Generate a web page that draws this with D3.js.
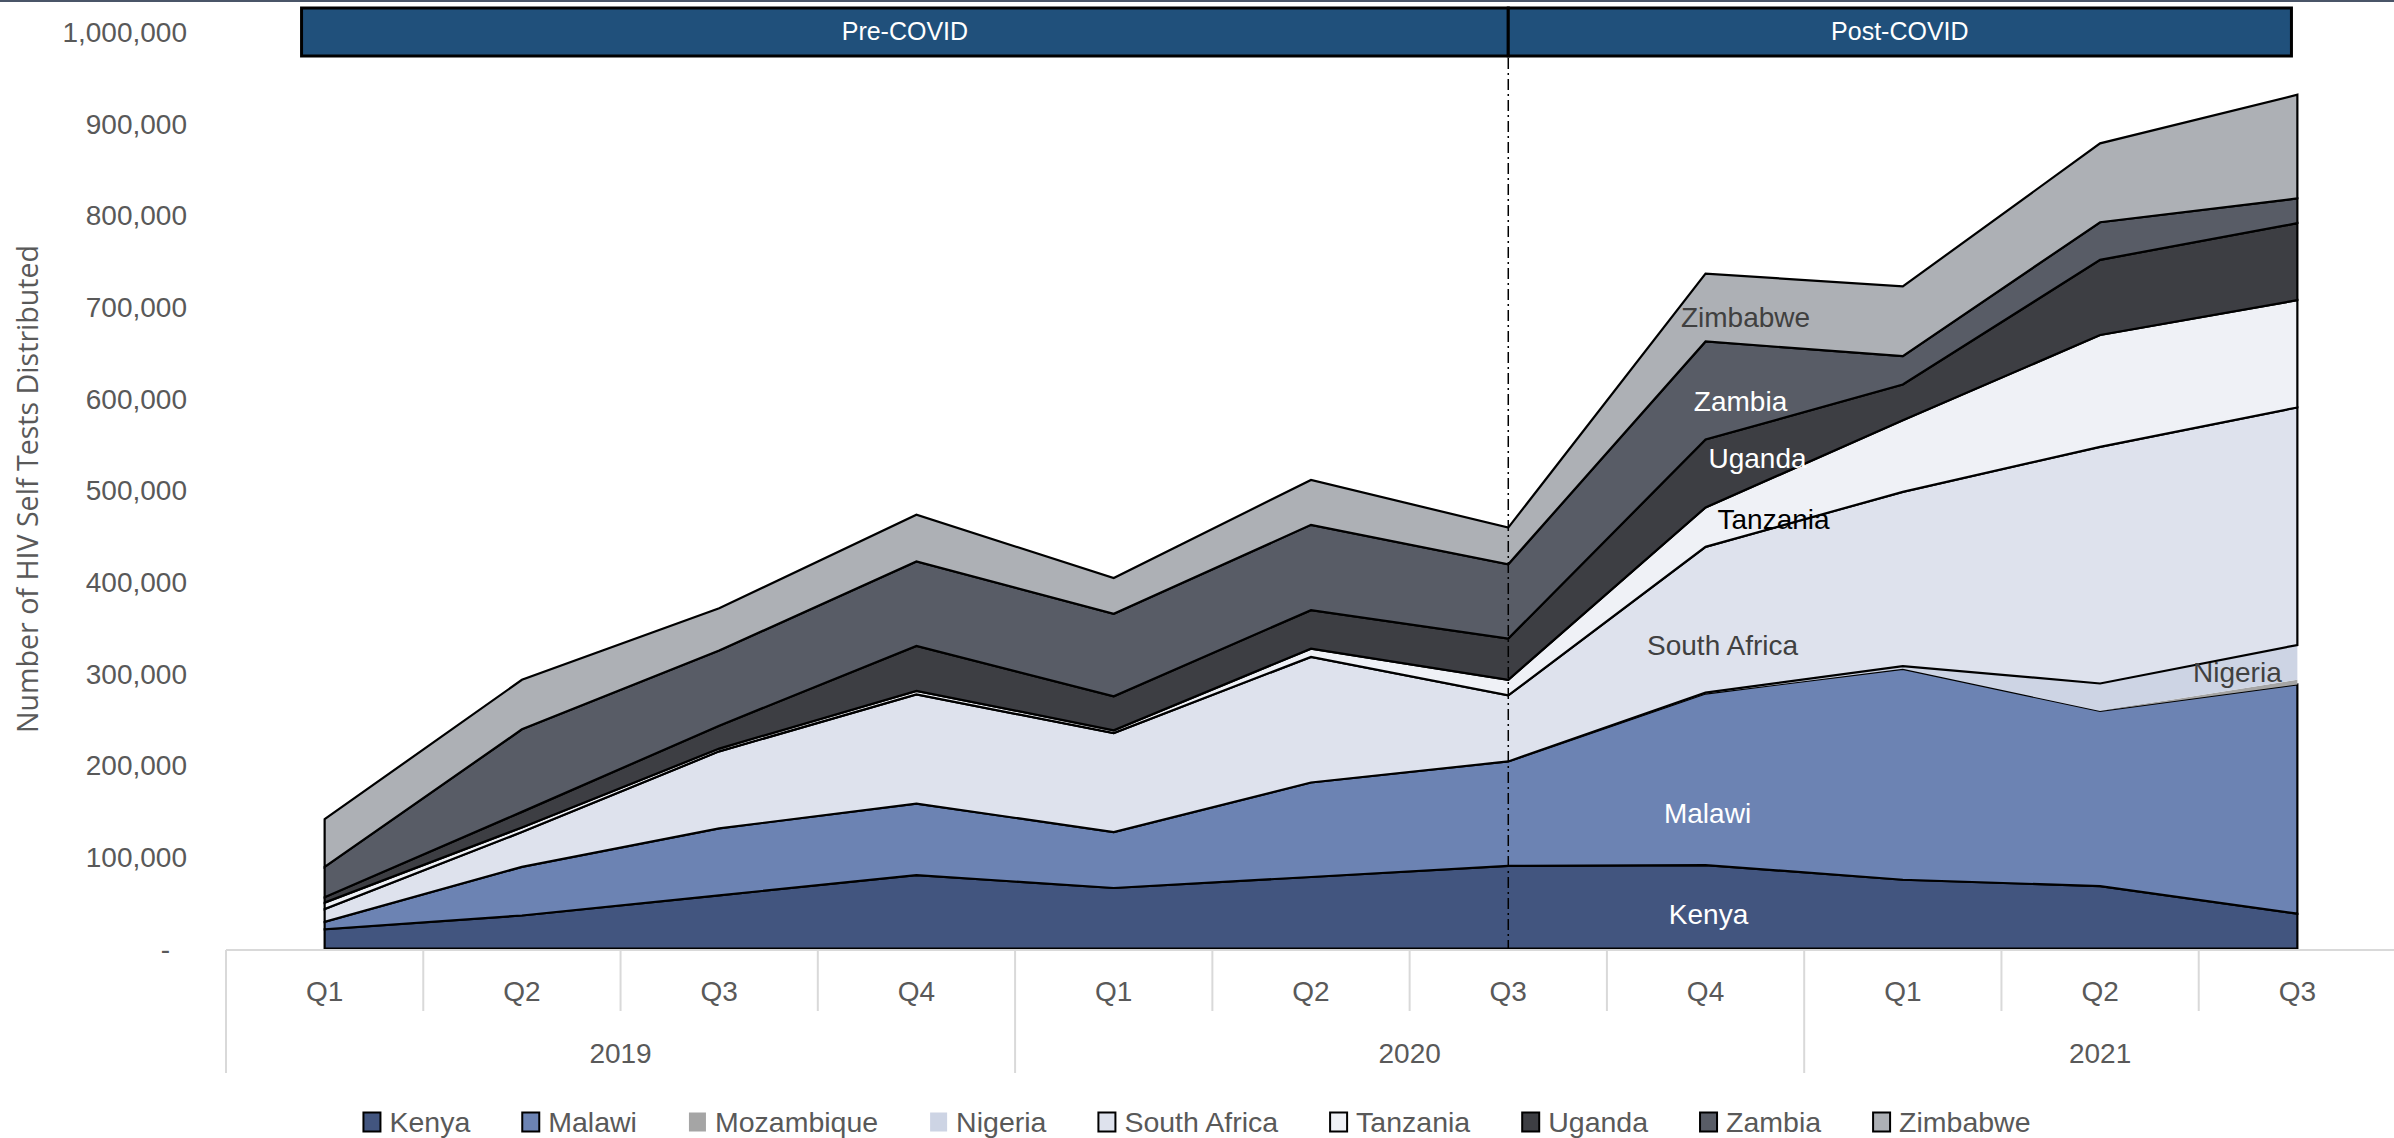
<!DOCTYPE html>
<html>
<head>
<meta charset="utf-8">
<script src="https://cdn.jsdelivr.net/npm/d3@7"></script>
<style>
  html, body { margin: 0; padding: 0; background: #ffffff; }
  svg { display: block; }
</style>
</head>
<body>
<svg id="chart" width="2394" height="1138"></svg>
<script>
// Quarterly HIV self-test distribution, stacked by country
const quarters = ["Q1", "Q2", "Q3", "Q4", "Q1", "Q2", "Q3", "Q4", "Q1", "Q2", "Q3"];
const years = ["2019", "2019", "2019", "2019", "2020", "2020", "2020", "2020", "2021", "2021", "2021"];

const countries = ["Kenya", "Malawi", "Mozambique", "Nigeria", "South Africa", "Tanzania", "Uganda", "Zambia", "Zimbabwe"];

const kenya       = [21000, 36000, 58000, 80000, 66000, 78000, 90000, 91000, 75000, 68000, 38000];
const malawi      = [8000, 53000, 73000, 78000, 61000, 103000, 114000, 187000, 230000, 191000, 250000];
const mozambique  = [0, 0, 0, 0, 0, 0, 0, 0, 0, 0, 5000];
const nigeria     = [0, 0, 0, 0, 0, 0, 0, 1000, 3000, 30000, 38000];
const southAfrica = [14000, 38000, 84000, 119000, 108000, 137000, 72000, 159000, 190000, 258000, 259000];
const tanzania    = [7000, 5000, 3000, 4000, 3000, 9000, 17000, 43000, 78000, 122000, 117000];
const uganda      = [6000, 17000, 25000, 49000, 37000, 42000, 45000, 74000, 39000, 82000, 84000];
const zambia      = [33000, 90000, 82000, 92000, 90000, 93000, 81000, 107000, 31000, 41000, 27000];
const zimbabwe    = [52000, 54000, 46000, 51000, 39000, 49000, 40000, 74000, 76000, 86000, 113000];

const seriesValues = [kenya, malawi, mozambique, nigeria, southAfrica, tanzania, uganda, zambia, zimbabwe];

const yTicks = [0, 100000, 200000, 300000, 400000, 500000, 600000, 700000, 800000, 900000, 1000000];

const periodLabels = ["Pre-COVID", "Post-COVID"];

// Styling
const fills = ["#42557f", "#6c83b3", "#a5a5a5", "#cdd4e4", "#dee2ed", "#eff1f6", "#3d3e43", "#585c66", "#adb0b5"];
const outlined = [true, true, false, false, true, true, true, true, true];
const labelColors = ["#ffffff", "#ffffff", "#404040", "#404040", "#404040", "#000000", "#ffffff", "#ffffff", "#404040"];
const FONT = "'Liberation Sans', Arial, sans-serif";
const TEXT_GREY = "#595959";

// Build table rows from the arrays
const rows = quarters.map((q, i) => {
  const r = { idx: i };
  countries.forEach((c, k) => { r[c] = seriesValues[k][i]; });
  return r;
});

const svg = d3.select("#chart");
const W = 2394;

const plotLeft = 226, plotRight = 2396;
const x = d3.scalePoint().domain(d3.range(quarters.length)).range([plotLeft, plotRight]).padding(0.5);
const xb = d3.scaleBand().domain(d3.range(quarters.length)).range([plotLeft, plotRight]);
const y = d3.scaleLinear().domain([0, 1000000]).range([948.5, 31.5]);

// Thin rule along the top edge
svg.append("rect").attr("x", 0).attr("y", 0).attr("width", W).attr("height", 2).attr("fill", "#4a5568");

// Stacked areas
const stack = d3.stack().keys(countries);
const layers = stack(rows);
const area = d3.area()
  .x(d => x(d.data.idx))
  .y0(d => y(d[0]))
  .y1(d => y(d[1]))
  .curve(d3.curveLinear);

svg.append("g").selectAll("path")
  .data(layers)
  .join("path")
  .attr("d", area)
  .attr("fill", (d, i) => fills[i])
  .attr("stroke", (d, i) => outlined[i] ? "#000000" : "none")
  .attr("stroke-width", 2.2)
  .attr("stroke-linejoin", "miter");

// Category axis line and separators
const axisY = y(0) + 1.5;
svg.append("line")
  .attr("x1", plotLeft).attr("x2", W)
  .attr("y1", axisY).attr("y2", axisY)
  .attr("stroke", "#d9d9d9").attr("stroke-width", 2);

const sepGroup = svg.append("g");
d3.range(quarters.length).forEach(i => {
  const isYearStart = i === 0 || years[i] !== years[i - 1];
  sepGroup.append("line")
    .attr("x1", xb(i)).attr("x2", xb(i))
    .attr("y1", axisY).attr("y2", isYearStart ? 1073 : 1011)
    .attr("stroke", "#d9d9d9").attr("stroke-width", 2);
});

// Quarter labels
svg.append("g").selectAll("text")
  .data(quarters)
  .join("text")
  .attr("x", (d, i) => x(i))
  .attr("y", 991)
  .attr("text-anchor", "middle")
  .attr("dominant-baseline", "central")
  .attr("font-family", FONT)
  .attr("font-size", 28)
  .attr("fill", TEXT_GREY)
  .text(d => d);

// Year labels centred under their quarters
const yearGroups = d3.groups(d3.range(years.length), i => years[i]);
svg.append("g").selectAll("text")
  .data(yearGroups)
  .join("text")
  .attr("x", d => (xb(d[1][0]) + xb(d[1][d[1].length - 1]) + xb.bandwidth()) / 2)
  .attr("y", 1053)
  .attr("text-anchor", "middle")
  .attr("dominant-baseline", "central")
  .attr("font-family", FONT)
  .attr("font-size", 28)
  .attr("fill", TEXT_GREY)
  .text(d => d[0]);

// Value axis
const yAxis = d3.axisLeft(y)
  .tickValues(yTicks)
  .tickSize(0)
  .tickPadding(0)
  .tickFormat(d => d === 0 ? "-" : d3.format(",")(d));
const yAxisG = svg.append("g").attr("transform", "translate(187,0)").call(yAxis);
yAxisG.select(".domain").remove();
yAxisG.selectAll("text")
  .attr("font-family", FONT)
  .attr("font-size", 28)
  .attr("fill", TEXT_GREY)
  .attr("dy", "0.35em")
  .attr("dx", d => d === 0 ? -17 : 0);

// Axis title
svg.append("text")
  .attr("transform", `translate(26,${(y(0) + y(1000000)) / 2 - 1}) rotate(-90)`)
  .attr("text-anchor", "middle")
  .attr("dominant-baseline", "central")
  .attr("font-family", "'Open Sans', 'Noto Sans', sans-serif")
  .attr("font-size", 28.6)
  .attr("fill", TEXT_GREY)
  .text("Number of HIV Self Tests Distributed");

// COVID period banner
const step = x.step();
const splitIdx = 6;
const bannerTop = 8, bannerBottom = 56;
const bannerEdges = [x(0) - step * 0.117, x(splitIdx), x(quarters.length - 1) - step * 0.03];
const banner = svg.append("g");
periodLabels.forEach((lab, i) => {
  banner.append("rect")
    .attr("x", bannerEdges[i]).attr("y", bannerTop)
    .attr("width", bannerEdges[i + 1] - bannerEdges[i])
    .attr("height", bannerBottom - bannerTop)
    .attr("fill", "#20507b")
    .attr("stroke", "#000000").attr("stroke-width", 3);
  banner.append("text")
    .attr("x", (bannerEdges[i] + bannerEdges[i + 1]) / 2)
    .attr("y", (bannerTop + bannerBottom) / 2 - 1)
    .attr("text-anchor", "middle")
    .attr("dominant-baseline", "central")
    .attr("font-family", FONT)
    .attr("font-size", 25)
    .attr("fill", "#ffffff")
    .text(lab);
});

// Dash-dot divider at the start of COVID
svg.append("line")
  .attr("x1", x(splitIdx)).attr("x2", x(splitIdx))
  .attr("y1", bannerBottom + 2).attr("y2", y(0))
  .attr("stroke", "#000000").attr("stroke-width", 1.5)
  .attr("stroke-dasharray", "11,4,2,4");

// In-chart series labels: [series, quarter index, horizontal nudge, value level]
const seriesLabels = [
  ["Zimbabwe", 7, 40, 688000],
  ["Zambia", 7, 35, 597000],
  ["Uganda", 7, 52, 534000],
  ["Tanzania", 7, 68, 468000],
  ["South Africa", 7, 17, 330000],
  ["Malawi", 7, 2, 147000],
  ["Kenya", 7, 3, 37000],
  ["Nigeria", 10, -60, 301000]
];
svg.append("g").selectAll("text")
  .data(seriesLabels)
  .join("text")
  .attr("x", d => x(d[1]) + d[2])
  .attr("y", d => y(d[3]))
  .attr("text-anchor", "middle")
  .attr("dominant-baseline", "central")
  .attr("font-family", FONT)
  .attr("font-size", 28)
  .attr("fill", d => labelColors[countries.indexOf(d[0])])
  .text(d => d[0]);

// Legend
const legend = svg.append("g");
const swW = 17, swH = 19, swGap = 9, itemGap = 52, legendY = 1122;
let cursor = 0;
countries.forEach((c, i) => {
  const g = legend.append("g");
  g.append("rect")
    .attr("x", 0).attr("y", legendY - swH / 2)
    .attr("width", swW).attr("height", swH)
    .attr("fill", fills[i])
    .attr("stroke", outlined[i] ? "#000000" : "none")
    .attr("stroke-width", 2);
  const t = g.append("text")
    .attr("x", swW + swGap).attr("y", legendY)
    .attr("dominant-baseline", "central")
    .attr("font-family", FONT)
    .attr("font-size", 28.5)
    .attr("fill", TEXT_GREY)
    .text(c);
  const tw = t.node().getComputedTextLength();
  g.attr("transform", `translate(${cursor},0)`);
  cursor += swW + swGap + tw + itemGap;
});
const legendWidth = cursor - itemGap;
legend.attr("transform", `translate(${(W - legendWidth) / 2},0)`);
</script>
</body>
</html>
